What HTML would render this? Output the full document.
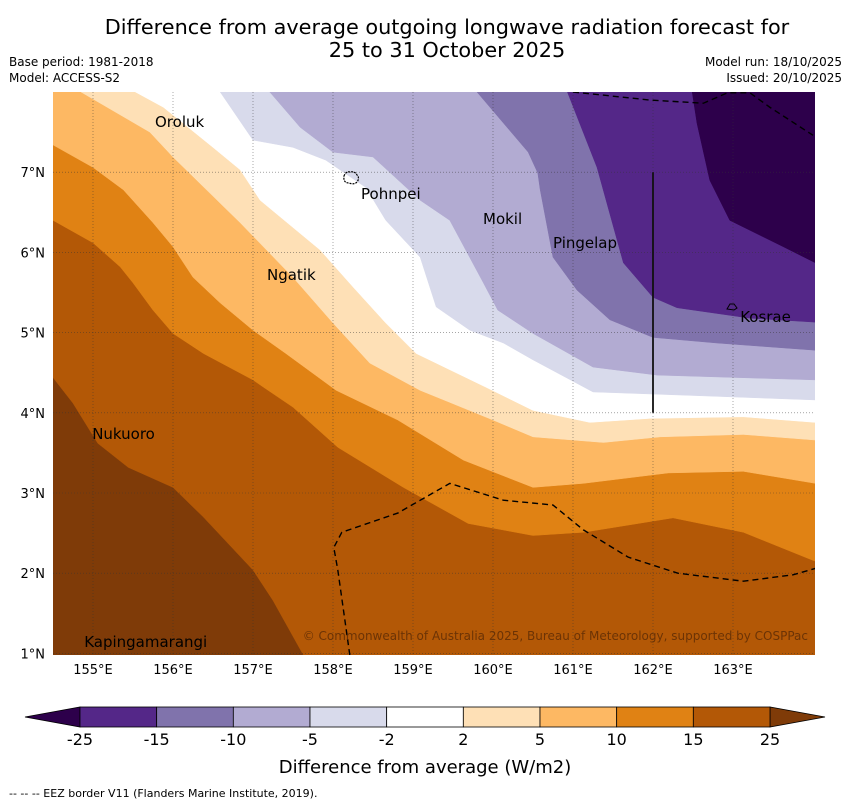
<!DOCTYPE html>
<html><head><meta charset="utf-8"><style>
body{margin:0;background:#fff;}
svg{display:block;font-family:"DejaVu Sans","Liberation Sans",sans-serif;}
</style></head><body>
<svg id="chart" width="850" height="804" viewBox="0 0 850 804" xmlns="http://www.w3.org/2000/svg">
<text x="447" y="34" font-size="20.8" text-anchor="middle">Difference from average outgoing longwave radiation forecast for</text>
<text x="447" y="57" font-size="20.8" text-anchor="middle">25 to 31 October 2025</text>
<text x="9" y="66" font-size="12">Base period: 1981-2018</text>
<text x="9" y="82" font-size="12">Model: ACCESS-S2</text>
<text x="842" y="66" font-size="12" text-anchor="end">Model run: 18/10/2025</text>
<text x="842" y="82" font-size="12" text-anchor="end">Issued: 20/10/2025</text>
<defs><clipPath id="plotclip"><rect x="53" y="92" width="762" height="563"/></clipPath></defs>
<g id="plot" clip-path="url(#plotclip)"></g>
<g id="axes"></g>
<g id="cbar"></g>
<text x="425" y="773" font-size="18" text-anchor="middle">Difference from average (W/m2)</text>
<text x="9" y="797" font-size="11">--  --  -- EEZ border V11 (Flanders Marine Institute, 2019).</text>
</svg>
<script>
const levelColors=["#7f3b08","#b35806","#e08214","#fdb863","#fee0b6","#ffffff","#d8daeb","#b2abd2","#8073ac","#542788","#2d004b"];
const levelLabels=["-25","-15","-10","-5","-2","2","5","10","15","25"];
const cbarColors=["#542788","#8073ac","#b2abd2","#d8daeb","#ffffff","#fee0b6","#fdb863","#e08214","#b35806"];
const lonTicks=[155,156,157,158,159,160,161,162,163];
const latTicks=[1,2,3,4,5,6,7];
// contour boundaries [lon,lat]
const c1=[[154.5,4.44],[154.75,4.12],[155.06,3.62],[155.44,3.32],[156.0,3.07],[156.38,2.70],[157.0,2.04],[157.25,1.66],[157.63,0.98]];
const c2=[[154.5,6.40],[155.0,6.12],[155.34,5.82],[155.5,5.62],[155.75,5.28],[156.0,4.99],[156.38,4.74],[157.0,4.41],[157.13,4.32],[157.5,4.07],[158.06,3.57],[158.88,3.07],[159.69,2.62],[160.5,2.47],[161.13,2.51],[162.25,2.69],[163.13,2.51],[164.0,2.16],[164.03,2.15]];
const c3=[[154.5,7.34],[155.0,7.06],[155.38,6.78],[155.75,6.37],[156.0,6.07],[156.25,5.69],[156.59,5.37],[157.0,5.03],[157.41,4.74],[158.04,4.28],[158.81,3.91],[159.63,3.41],[160.5,3.07],[161.13,3.12],[162.19,3.25],[163.13,3.27],[164.03,3.12]];
const c4=[[154.85,8.0],[155.71,7.50],[156.0,7.19],[156.84,6.37],[157.5,5.69],[158.0,5.12],[158.46,4.62],[159.09,4.28],[159.46,4.13],[160.0,3.91],[160.5,3.70],[161.38,3.63],[162.09,3.70],[163.13,3.73],[164.03,3.66]];
const c5=[[155.53,8.0],[155.88,7.81],[156.5,7.31],[156.84,7.03],[157.09,6.65],[157.84,6.03],[158.25,5.57],[158.66,5.12],[159.04,4.74],[159.91,4.32],[160.5,4.03],[161.21,3.88],[161.96,3.93],[163.13,3.95],[164.03,3.88]];
const c6=[[156.59,8.0],[157.0,7.40],[157.5,7.31],[157.91,7.15],[158.41,6.81],[158.66,6.40],[159.09,5.94],[159.29,5.32],[159.71,5.03],[160.13,4.87],[160.5,4.66],[161.25,4.26],[162.38,4.22],[164.03,4.16]];
const c7=[[157.21,8.0],[157.59,7.56],[158.0,7.25],[158.5,7.19],[159.09,6.65],[159.46,6.40],[159.88,5.62],[160.06,5.28],[160.5,4.99],[161.25,4.57],[162.05,4.47],[164.03,4.41]];
const c8=[[159.80,8.0],[160.44,7.25],[160.56,6.99],[160.59,6.78],[160.75,5.94],[161.05,5.53],[161.46,5.16],[162.0,4.94],[162.8,4.87],[164.03,4.78]];
const c9=[[160.93,8.0],[161.30,7.06],[161.63,5.87],[162.0,5.44],[162.3,5.31],[163.21,5.18],[164.03,5.13]];
const c10=[[162.49,8.0],[162.55,7.61],[162.71,6.90],[162.96,6.40],[163.63,6.07],[164.03,5.87]];
const eezSouth=[[158.21,0.98],[158.06,2.04],[158.01,2.32],[158.11,2.51],[158.81,2.75],[159.46,3.12],[160.13,2.91],[160.75,2.85],[161.13,2.54],[161.69,2.20],[162.31,2.00],[163.13,1.90],[163.75,1.98],[164.03,2.06]];
const eezNorth=[[161.0,8.0],[161.96,7.90],[162.63,7.86],[162.93,7.99],[163.21,7.99],[163.46,7.81],[164.0,7.46]];
const places=["Oroluk","Pohnpei","Mokil","Pingelap","Ngatik","Kosrae","Nukuoro","Kapingamarangi"];
const placeLon=[155.775,158.35,159.875,160.75,157.175,163.09,154.99,154.89];
const placeLat=[7.564,6.666,6.354,6.055,5.656,5.132,3.673,1.08];

const NS="http://www.w3.org/2000/svg";
const X0=53,X1=815,Y0=92,Y1=655,LON0=154.5,LON1=164.025,LAT0=8.0,LAT1=0.98;
function sx(lon){return X0+(lon-LON0)/(LON1-LON0)*(X1-X0);}
function sy(lat){return Y0+(LAT0-lat)/(LAT0-LAT1)*(Y1-Y0);}
function mk(tag,attrs,parent){const e=document.createElementNS(NS,tag);for(const k in attrs)e.setAttribute(k,attrs[k]);parent.appendChild(e);return e;}
const plot=document.getElementById('plot');
const bg=mk('rect',{x:X0,y:Y0,width:X1-X0,height:Y1-Y0,fill:levelColors[0]},plot);


const contours=[c1,c2,c3,c4,c5,c6,c7,c8,c9,c10];
const bandNames=['band-15-25','band-10-15','band-5-10','band-2-5','band-neutral','band-minus2-5','band-minus5-10','band-minus10-15','band-minus15-25','band-below-25'];
contours.forEach((c,i)=>{
  let pts=c.map(p=>sx(p[0])+','+sy(p[1]));
  const last=c[c.length-1],first=c[0];
  if(sy(last[1])>=Y1-2) pts.push((X1+5)+','+(Y1+5));
  pts.push((X1+5)+','+(Y0-5));
  if(sx(first[0])<=X0+1) pts.push((X0-5)+','+(Y0-5));
  const pg=mk('polygon',{points:pts.join(' '),fill:levelColors[i+1],stroke:levelColors[i+1],'stroke-width':0.5},plot);
  
  
});
// grid
lonTicks.forEach(l=>{const g=mk('line',{x1:sx(l),x2:sx(l),y1:Y0,y2:Y1,stroke:'#333','stroke-width':0.6,'stroke-dasharray':'1,2','stroke-opacity':0.7},plot);

});
latTicks.forEach(l=>{const g=mk('line',{x1:X0,x2:X1,y1:sy(l),y2:sy(l),stroke:'#333','stroke-width':0.6,'stroke-dasharray':'1,2','stroke-opacity':0.7},plot);

});
// eez
[eezSouth,eezNorth].forEach(e=>{const p=mk('polyline',{points:e.map(q=>sx(q[0])+','+sy(q[1])).join(' '),fill:'none',stroke:'#000','stroke-width':1.4,'stroke-dasharray':'6,4'},plot);

});
const vl=mk('line',{x1:sx(162),x2:sx(162),y1:sy(7),y2:sy(4),stroke:'#111','stroke-width':1.8},plot);


// islands
const pohn=mk('path',{d:'M344,176 q2,-5 6,-4 q5,-1 7,3 q3,3 0,7 q-3,3 -8,1 q-6,0 -5,-7z',fill:'none',stroke:'#000','stroke-width':1.2,'stroke-dasharray':'2,1'},plot);


const kos=mk('path',{d:'M727,309 l3,-5 l4,0 l3,4 l-3,2 z',fill:'none',stroke:'#000','stroke-width':1},plot);


places.forEach((n,i)=>{const t=mk('text',{x:sx(placeLon[i]),y:sy(placeLat[i]),'font-size':15,fill:'#000'},plot);t.textContent=n;

});
const cr=mk('text',{x:808,y:640,'font-size':12,fill:'#5a2a05','text-anchor':'end','fill-opacity':0.8},plot);
cr.textContent='© Commonwealth of Australia 2025, Bureau of Meteorology, supported by COSPPac';


// axes labels
const axes=document.getElementById('axes');
lonTicks.forEach(l=>{const t=mk('text',{x:sx(l),y:674,'font-size':13,'text-anchor':'middle'},axes);t.textContent=l+'°E';

});
latTicks.forEach(l=>{const t=mk('text',{x:45,y:sy(l)+5,'font-size':13,'text-anchor':'end'},axes);t.textContent=l+'°N';

});
// colorbar
const cb=document.getElementById('cbar');
const CB0=80,CB1=770,CBY=707,CBH=20,w=(CB1-CB0)/cbarColors.length;
const lt=mk('polygon',{points:`${CB0},${CBY} ${CB0},${CBY+CBH} 25,${CBY+CBH/2}`,fill:'#2d004b',stroke:'#000','stroke-width':0.8},cb);


const rt=mk('polygon',{points:`${CB1},${CBY} ${CB1},${CBY+CBH} 825,${CBY+CBH/2}`,fill:'#7f3b08',stroke:'#000','stroke-width':0.8},cb);


cbarColors.forEach((c,i)=>{const r=mk('rect',{x:CB0+i*w,y:CBY,width:w,height:CBH,fill:c,stroke:'#000','stroke-width':0.8},cb);

});
levelLabels.forEach((l,i)=>{const t=mk('text',{x:CB0+i*w,y:745,'font-size':16,'text-anchor':'middle'},cb);t.textContent=l;

});
</script>
</body></html>
